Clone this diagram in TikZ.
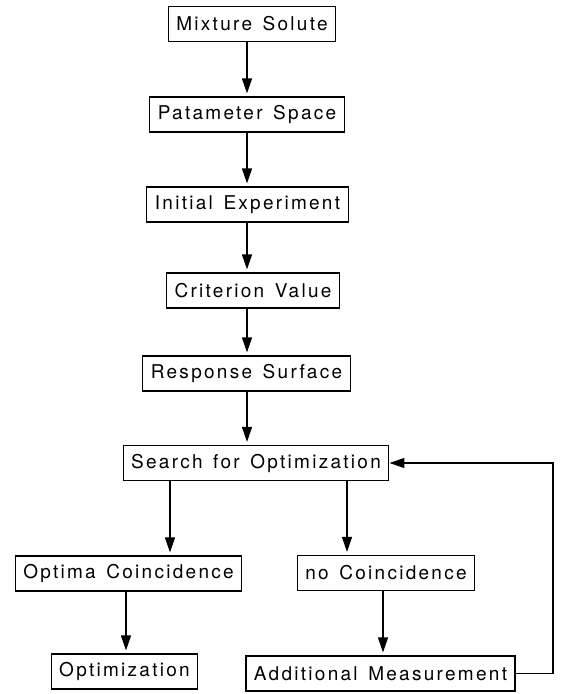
\documentclass[tikz,border=0pt]{standalone}
\usepackage{fontspec}
\setmainfont{TeX Gyre Heros}[LetterSpace=12,WordSpace=1.4]
\usetikzlibrary{arrows.meta}
\begin{document}
\begin{tikzpicture}[x=1pt,y=-1pt,
        caja/.style={draw,line width=1.2pt,minimum height=35pt,inner xsep=8pt,
            font=\fontsize{19}{21}\selectfont},
        flecha/.style={line width=1.2pt,shorten >=3pt,-{Triangle[length=15pt,width=10pt]}}]
        \useasboundingbox (0,0) rectangle (561,694);

        % Cajas del esquema
        \node[caja] (mix)   at (252,24)    {Mixture Solute};
        \node[caja] (pat)   at (247,114.5) {Patameter Space};
        \node[caja] (ini)   at (247.5,204.5) {Initial Experiment};
        \node[caja] (crit)  at (253,290.5) {Criterion Value};
        \node[caja] (resp)  at (246.5,373.5) {Response Surface};
        \node[caja] (busq)  at (256,463)   {Search for Optimization};
        \node[caja] (optco) at (128.5,573.5) {Optima Coincidence};
        \node[caja] (noco)  at (386,573)   {no Coincidence};
        \node[caja] (optim) at (124.5,671.5) {Optimization};
        \node[caja] (addm)  at (380.5,673.5) {Additional Measurement};

        % Flechas
        \coordinate (eje) at (247,0);
        \coordinate (izq) at (170,0);
        \coordinate (der) at (347,0);
        \coordinate (bajo1) at (126,0);
        \coordinate (bajo2) at (383,0);
        \coordinate (vuelta) at (553,0);
        \foreach \a/\b in {mix/pat,pat/ini,ini/crit,crit/resp,resp/busq}
            \draw[flecha] (\a.south -| eje) -- (\b.north -| eje);
        \draw[flecha] (busq.south -| izq) -- (optco.north -| izq);
        \draw[flecha] (busq.south -| der) -- (noco.north -| der);
        \draw[flecha] (optco.south -| bajo1) -- (optim.north -| bajo1);
        \draw[flecha] (noco.south -| bajo2) -- (addm.north -| bajo2);
        % lazo de vuelta
        \draw[flecha,shorten >=0pt] (addm.east) -- (addm.east -| vuelta) |- (busq.east);
\end{tikzpicture}
\end{document}
